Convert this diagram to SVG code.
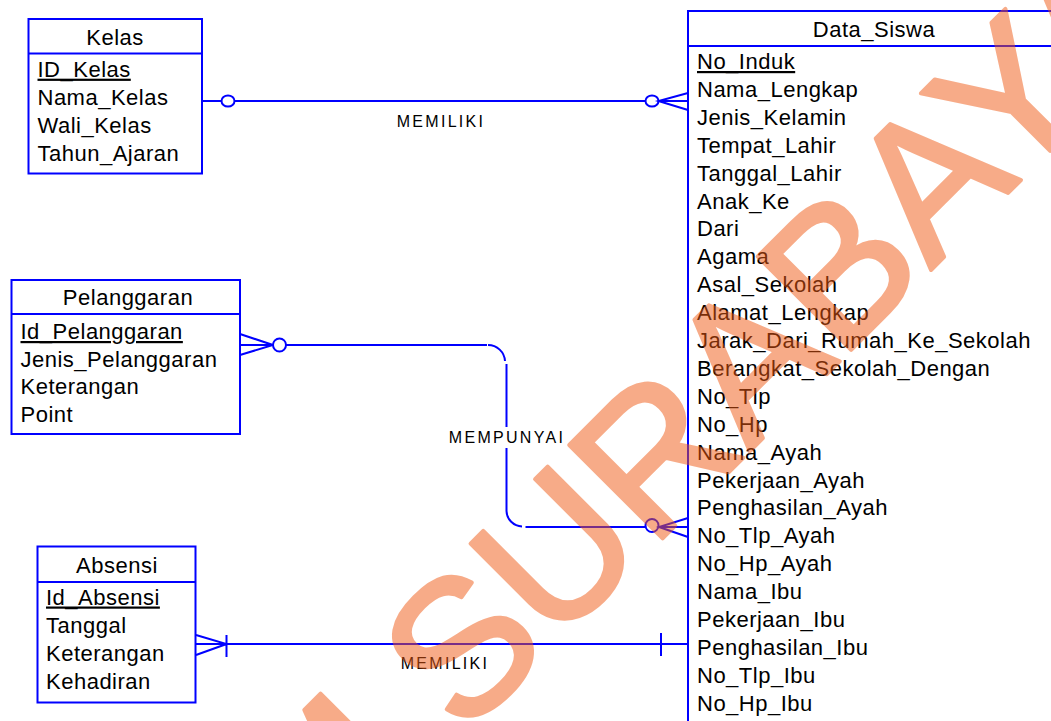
<svg xmlns="http://www.w3.org/2000/svg" width="1051" height="721" viewBox="0 0 1051 721">
<style>
.box{fill:#fff;stroke:#00f;stroke-width:2}
.ln{fill:none;stroke:#00f;stroke-width:2}
.ring{fill:#fff;stroke:#00f;stroke-width:2}
.t{font-family:"Liberation Sans",Arial,sans-serif;font-size:22px;fill:#000;letter-spacing:0.5px}
.ttl{text-anchor:middle}
.pk{text-decoration:underline}
.lbl{font-family:"Liberation Sans",Arial,sans-serif;font-size:16px;letter-spacing:2.3px;fill:#000;text-anchor:middle}
.wm{font-family:"Liberation Sans",Arial,sans-serif;font-size:192px;fill:#F05A14;stroke:#F05A14;stroke-width:4;stroke-linejoin:round}
</style>
<rect width="1051" height="721" fill="#fff"/>
<g id="connectors">
  <g id="rel-kelas-siswa">
    <path class="ln" d="M202 101 H221.5 M234.5 101 H645.5"/>
    <ellipse class="ring" cx="228" cy="101" rx="6.5" ry="5.5"/>
    <ellipse class="ring" cx="652" cy="101" rx="6.5" ry="5.5"/>
    <path class="ln" d="M688 93 L658.5 101 L688 110 M658.5 101 H688"/>
    <text class="lbl" x="441" y="127">MEMILIKI</text>
  </g>
  <g id="rel-pelanggaran-siswa">
    <path class="ln" d="M240 334 L273 345 L240 355 M240 345 H273"/>
    <circle class="ring" cx="279.5" cy="345" r="6.5"/>
    <path class="ln" d="M286 345 H487"/>
    <path class="ln" d="M488 345 A17 17 0 0 1 505 361"/>
    <path class="ln" d="M506.5 364 V427 M506.5 448 V511"/>
    <path class="ln" d="M506.5 511 A16 16 0 0 0 522 526.5"/>
    <path class="ln" d="M525.5 527 H645.5"/>
    <circle class="ring" cx="652" cy="525.5" r="6.5"/>
    <path class="ln" d="M688 518 L659 527 L688 537 M659 527 H688"/>
    <text class="lbl" x="507" y="443">MEMPUNYAI</text>
  </g>
  <g id="rel-absensi-siswa">
    <path class="ln" d="M196 635 L226.5 644 L196 655 M196 644 H688 M226.5 635 V657 M661 633 V656"/>
    <text class="lbl" x="445" y="669">MEMILIKI</text>
  </g>
</g>
<g id="Kelas">
  <rect class="box" x="28.5" y="19" width="173.5" height="154.5"/>
  <path class="ln" d="M28.5 53.5 H202"/>
  <text class="t ttl" x="115" y="45">Kelas</text>
  <text class="t pk" x="37.5" y="76.7">ID_Kelas</text>
  <text class="t" x="37.5" y="104.7">Nama_Kelas</text>
  <text class="t" x="37.5" y="132.7">Wali_Kelas</text>
  <text class="t" x="37.5" y="160.7">Tahun_Ajaran</text>
</g>
<g id="Pelanggaran">
  <rect class="box" x="11.5" y="280" width="228.5" height="154"/>
  <path class="ln" d="M11.5 314 H240"/>
  <text class="t ttl" x="128" y="305">Pelanggaran</text>
  <text class="t pk" x="20.5" y="339">Id_Pelanggaran</text>
  <text class="t" x="20.5" y="366.7">Jenis_Pelanggaran</text>
  <text class="t" x="20.5" y="394.4">Keterangan</text>
  <text class="t" x="20.5" y="422">Point</text>
</g>
<g id="Absensi">
  <rect class="box" x="37.5" y="546.5" width="158" height="156"/>
  <path class="ln" d="M37.5 582 H195.5"/>
  <text class="t ttl" x="117" y="573">Absensi</text>
  <text class="t pk" x="46" y="604.5">Id_Absensi</text>
  <text class="t" x="46" y="632.5">Tanggal</text>
  <text class="t" x="46" y="660.5">Keterangan</text>
  <text class="t" x="46" y="688.5">Kehadiran</text>
</g>
<g id="Data_Siswa">
  <rect class="box" x="688" y="11" width="400" height="740"/>
  <path class="ln" d="M688 46 H1060"/>
  <text class="t ttl" x="874" y="37">Data_Siswa</text>
  <text class="t pk" x="697" y="69">No_Induk</text>
  <text class="t" x="697" y="96.9">Nama_Lengkap</text>
  <text class="t" x="697" y="124.8">Jenis_Kelamin</text>
  <text class="t" x="697" y="152.7">Tempat_Lahir</text>
  <text class="t" x="697" y="180.6">Tanggal_Lahir</text>
  <text class="t" x="697" y="208.5">Anak_Ke</text>
  <text class="t" x="697" y="236.4">Dari</text>
  <text class="t" x="697" y="264.3">Agama</text>
  <text class="t" x="697" y="292.2">Asal_Sekolah</text>
  <text class="t" x="697" y="320.1">Alamat_Lengkap</text>
  <text class="t" x="697" y="348">Jarak_Dari_Rumah_Ke_Sekolah</text>
  <text class="t" x="697" y="375.9">Berangkat_Sekolah_Dengan</text>
  <text class="t" x="697" y="403.8">No_Tlp</text>
  <text class="t" x="697" y="431.7">No_Hp</text>
  <text class="t" x="697" y="459.6">Nama_Ayah</text>
  <text class="t" x="697" y="487.5">Pekerjaan_Ayah</text>
  <text class="t" x="697" y="515.4">Penghasilan_Ayah</text>
  <text class="t" x="697" y="543.3">No_Tlp_Ayah</text>
  <text class="t" x="697" y="571.2">No_Hp_Ayah</text>
  <text class="t" x="697" y="599.1">Nama_Ibu</text>
  <text class="t" x="697" y="627">Pekerjaan_Ibu</text>
  <text class="t" x="697" y="654.9">Penghasilan_Ibu</text>
  <text class="t" x="697" y="682.8">No_Tlp_Ibu</text>
  <text class="t" x="697" y="710.7">No_Hp_Ibu</text>
</g>
<g id="watermark" opacity="0.5">
  <text class="wm" transform="translate(463,738) rotate(-45)" x="-789.5" y="0">STIKOM SURABAYA</text>
</g>
</svg>
